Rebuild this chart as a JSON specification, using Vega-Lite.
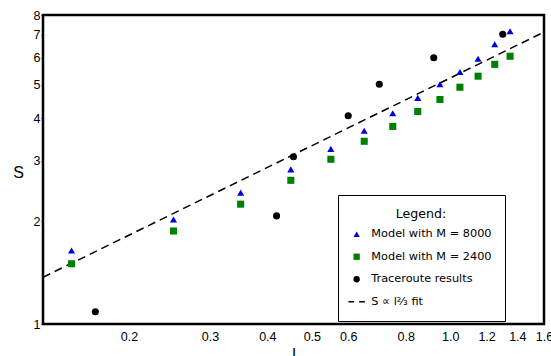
{
  "$schema": "https://vega.github.io/schema/vega-lite/v6.json",
  "width": 501,
  "height": 309,
  "autosize": {"type": "none"},
  "padding": {"left": 43, "top": 15, "right": 7, "bottom": 32},
  "background": "white",
  "config": {
    "view": {"stroke": "black", "strokeWidth": 2.5},
    "axis": {"grid": false, "domain": false, "labelFont": "Liberation Sans", "labelFontSize": 12.5, "labelColor": "black", "titleFont": "Liberation Sans", "titleFontWeight": "normal", "titleColor": "black", "tickColor": "black"}
  },
  "layer": [
    {
      "data": {"values": [
        {"l": 0.13, "S": 1.37},
        {"l": 1.6, "S": 7.13}
      ]},
      "mark": {"type": "line", "color": "black", "strokeWidth": 1.5, "strokeDash": [8, 5], "clip": true},
      "encoding": {
        "x": {"field": "l", "type": "quantitative"},
        "y": {"field": "S", "type": "quantitative"}
      }
    },
    {
      "data": {"values": [
        {"series": "Model with M = 8000", "l": 0.15, "S": 1.64},
        {"series": "Model with M = 8000", "l": 0.25, "S": 2.02},
        {"series": "Model with M = 8000", "l": 0.35, "S": 2.42},
        {"series": "Model with M = 8000", "l": 0.45, "S": 2.83},
        {"series": "Model with M = 8000", "l": 0.55, "S": 3.25},
        {"series": "Model with M = 8000", "l": 0.65, "S": 3.67},
        {"series": "Model with M = 8000", "l": 0.75, "S": 4.13},
        {"series": "Model with M = 8000", "l": 0.85, "S": 4.58},
        {"series": "Model with M = 8000", "l": 0.95, "S": 5.02},
        {"series": "Model with M = 8000", "l": 1.05, "S": 5.45},
        {"series": "Model with M = 8000", "l": 1.15, "S": 5.96},
        {"series": "Model with M = 8000", "l": 1.25, "S": 6.57},
        {"series": "Model with M = 8000", "l": 1.35, "S": 7.17},
        {"series": "Model with M = 2400", "l": 0.15, "S": 1.50},
        {"series": "Model with M = 2400", "l": 0.25, "S": 1.87},
        {"series": "Model with M = 2400", "l": 0.35, "S": 2.24},
        {"series": "Model with M = 2400", "l": 0.45, "S": 2.63},
        {"series": "Model with M = 2400", "l": 0.55, "S": 3.03},
        {"series": "Model with M = 2400", "l": 0.65, "S": 3.42},
        {"series": "Model with M = 2400", "l": 0.75, "S": 3.78},
        {"series": "Model with M = 2400", "l": 0.85, "S": 4.18},
        {"series": "Model with M = 2400", "l": 0.95, "S": 4.53},
        {"series": "Model with M = 2400", "l": 1.05, "S": 4.92},
        {"series": "Model with M = 2400", "l": 1.15, "S": 5.30},
        {"series": "Model with M = 2400", "l": 1.25, "S": 5.74},
        {"series": "Model with M = 2400", "l": 1.35, "S": 6.06},
        {"series": "Traceroute results", "l": 0.169, "S": 1.086},
        {"series": "Traceroute results", "l": 0.419, "S": 2.07},
        {"series": "Traceroute results", "l": 0.456, "S": 3.08},
        {"series": "Traceroute results", "l": 0.600, "S": 4.06},
        {"series": "Traceroute results", "l": 0.701, "S": 5.02},
        {"series": "Traceroute results", "l": 0.921, "S": 6.0},
        {"series": "Traceroute results", "l": 1.301, "S": 7.03}
      ]},
      "mark": {"type": "point", "filled": true, "opacity": 1, "size": 50, "strokeWidth": 0},
      "encoding": {
        "x": {
          "field": "l", "type": "quantitative",
          "scale": {"type": "log", "domain": [0.13, 1.6], "nice": false, "zero": false},
          "axis": {"values": [0.2, 0.3, 0.4, 0.5, 0.6, 0.8, 1.0, 1.2, 1.4, 1.6], "format": ".1f", "ticks": false, "labelPadding": 6, "title": "l", "titleFontSize": 16, "titlePadding": 4, "labelFlush": false, "labelOverlap": false}
        },
        "y": {
          "field": "S", "type": "quantitative",
          "scale": {"type": "log", "domain": [1, 8], "nice": false, "zero": false},
          "axis": {"values": [1, 2, 3, 4, 5, 6, 7, 8], "format": "d", "tickSize": 2, "labelPadding": 1, "title": "S", "titleFontSize": 16, "titleAngle": 0, "titleAlign": "center", "titleBaseline": "middle", "titleX": -25, "titleY": 157, "labelFlush": false, "labelOverlap": false}
        },
        "color": {
          "field": "series", "type": "nominal",
          "scale": {"domain": ["Model with M = 8000", "Model with M = 2400", "Traceroute results", "S ∝ l⅔  fit"], "range": ["#0000dd", "#008000", "black", "black"]},
          "legend": {
            "orient": "none", "legendX": 295, "legendY": 180,
            "title": "Legend:", "titleAnchor": "middle", "titleFont": "DejaVu Sans", "titleFontSize": 12.6, "titleFontWeight": "normal", "titleColor": "black", "titlePadding": 8,
            "labelFont": "DejaVu Sans", "labelFontSize": 11.3, "labelColor": "black", "labelOffset": 9, "symbolSize": 40, "symbolOffset": 0,
            "rowPadding": 10.5, "padding": 13, "strokeColor": "black", "fillColor": "white"
          }
        },
        "shape": {
          "field": "series", "type": "nominal",
          "scale": {"domain": ["Model with M = 8000", "Model with M = 2400", "Traceroute results", "S ∝ l⅔  fit"], "range": ["triangle-up", "square", "circle", "M-2.6,-0.2H-0.8V0.2H-2.6ZM0.8,-0.2H2.6V0.2H0.8Z"]}
        }
      }
    }
  ]
}
